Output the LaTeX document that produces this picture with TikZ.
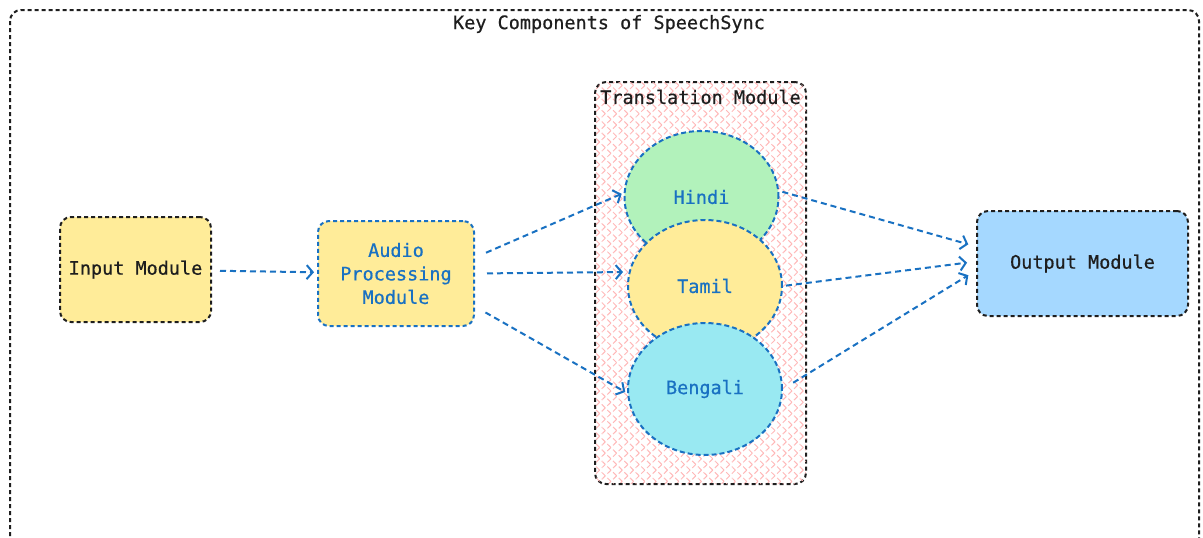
\documentclass[tikz,border=0pt]{standalone}
\usepackage{fontspec}
\setmonofont[UprightFeatures={FakeBold=0.6}]{DejaVu Sans Mono}
\usetikzlibrary{arrows.meta,patterns.meta,shapes.geometric}

\definecolor{inkblack}{HTML}{1E1E1E}
\definecolor{linkblue}{HTML}{1971C2}
\definecolor{modyellow}{HTML}{FFEC99}
\definecolor{langgreen}{HTML}{B2F2BB}
\definecolor{langcyan}{HTML}{99E9F2}
\definecolor{outblue}{HTML}{A5D8FF}
\definecolor{hatchpink}{HTML}{FFB8B8}

\begin{document}
\begin{tikzpicture}[
  x=1pt,y=-1pt,
  font=\ttfamily\fontsize{18.5}{23.5}\selectfont,
  box/.style={draw=inkblack,rounded corners=11pt,line width=2pt,dash pattern=on 4pt off 3pt,minimum height=105pt,align=center,text=inkblack},
  bluebox/.style={box,draw=linkblue,text=linkblue},
  cluster/.style={draw=inkblack,rounded corners=11pt,line width=2pt,dash pattern=on 4pt off 3pt,
    pattern={Lines[angle=45,distance=8pt,line width=1pt]},pattern color=hatchpink,
    postaction={pattern={Lines[angle=-45,distance=8pt,line width=1pt]},pattern color=hatchpink}},
  lang/.style={ellipse,draw=linkblue,line width=2pt,dash pattern=on 5pt off 3pt,minimum width=154pt,minimum height=132pt,inner sep=0pt,text=linkblue},
  arrow/.style={draw=linkblue,line width=2pt,dash pattern=on 6pt off 4pt,-{Straight Barb[length=6pt,width=14pt]}}
]
\clip (0,0) rectangle (1203,538);

% outer frame
\draw[inkblack,rounded corners=11pt,line width=2pt,dash pattern=on 4pt off 3pt] (10,10) rectangle (1199,570);
\node[text=inkblack] (title) at (609,24) {Key Components of SpeechSync};

% modules
\node[box,fill=modyellow,minimum width=151pt] (input) at (135.5,269.5) {Input Module};
\node[bluebox,fill=modyellow,minimum width=156pt] (audio) at (396,273.5) {Audio\\Processing\\Module};
\node[box,fill=outblue,minimum width=211pt] (output) at (1082.5,263.5) {Output Module};

% translation group
\node[cluster,minimum width=211pt,minimum height=402pt] (trans) at (700.5,283) {};
\node[text=inkblack] (transtitle) at (700.5,97) {Translation Module};
\node[lang,fill=langgreen] (hindi) at (701.5,197) {Hindi};
\node[lang,fill=modyellow] (tamil) at (705,286) {Tamil};
\node[lang,fill=langcyan] (bengali) at (705,389) {Bengali};

% flows
\draw[arrow,shorten <=8pt,shorten >=3pt] (input) -- (audio);
\draw[arrow,shorten <=12pt,shorten >=2pt] ([yshift=16pt]audio.east) -- ([yshift=4pt]hindi.west);
\draw[arrow,shorten <=12pt,shorten >=4pt] (audio.east) -- ([yshift=14pt]tamil.west);
\draw[arrow,shorten <=12pt,shorten >=2pt] ([yshift=-33pt]audio.east) -- ([yshift=-4pt]bengali.west);
\draw[arrow,shorten <=3pt,shorten >=8pt] ([yshift=6pt]hindi.east) -- ([yshift=17pt]output.west);
\draw[arrow,shorten <=3pt,shorten >=9pt] (tamil.east) -- ([yshift=2pt]output.west);
\draw[arrow,shorten <=12pt,shorten >=9pt] (bengali.east) -- ([yshift=-7pt]output.west);
\end{tikzpicture}
\end{document}
